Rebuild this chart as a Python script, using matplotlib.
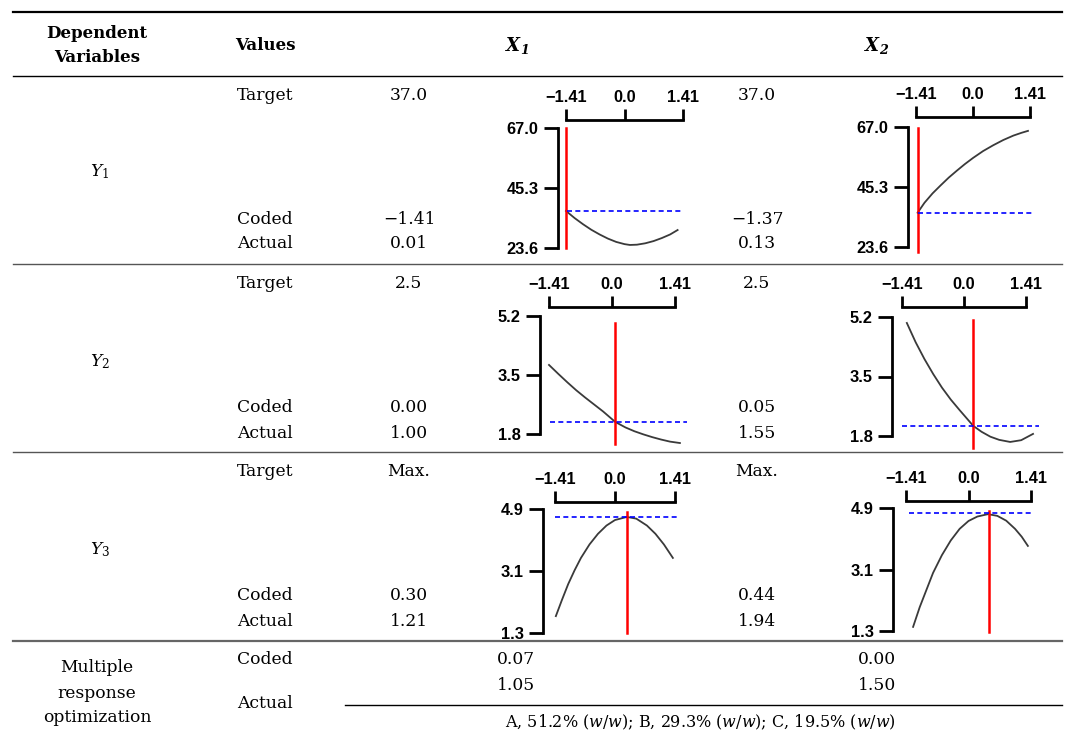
import matplotlib.pyplot as plt
import matplotlib as mpl

# ---- table text ----
responses = ["$Y_1$", "$Y_2$", "$Y_3$"]
targets_x1 = ["37.0", "2.5", "Max."]
coded_x1 = ["\u22121.41", "0.00", "0.30"]
actual_x1 = ["0.01", "1.00", "1.21"]
targets_x2 = ["37.0", "2.5", "Max."]
coded_x2 = ["\u22121.37", "0.05", "0.44"]
actual_x2 = ["0.13", "1.55", "1.94"]
multi_x1 = ["0.07", "1.05"]
multi_x2 = ["0.00", "1.50"]
composition = "A, 51.2% ($w/w$); B, 29.3% ($w/w$); C, 19.5% ($w/w$)"

# ---- mini plots: coded level vs response ----
coded_ticks = [-1.41, 0.0, 1.41]
coded_ticklabels = ["\u22121.41", "0.0", "1.41"]
y1_ticks = [23.6, 45.3, 67.0]
y2_ticks = [1.8, 3.5, 5.2]
y3_ticks = [1.3, 3.1, 4.9]

y1_x1_c = [-1.41, -1.2, -1.0, -0.8, -0.6, -0.4, -0.2, 0.0, 0.13, 0.3, 0.5, 0.7, 0.9, 1.1, 1.28]
y1_x1_v = [37.0, 34.4, 32.2, 30.2, 28.5, 27.0, 25.8, 25.0, 24.7, 24.8, 25.3, 26.1, 27.2, 28.5, 30.1]
y1_x2_c = [-1.37, -1.2, -1.0, -0.8, -0.6, -0.4, -0.2, 0.0, 0.25, 0.5, 0.75, 1.0, 1.2, 1.36]
y1_x2_v = [36.0, 39.6, 43.0, 45.9, 48.7, 51.2, 53.6, 55.8, 58.3, 60.4, 62.3, 63.9, 64.9, 65.6]
y2_x1_c = [-1.41, -1.2, -1.0, -0.8, -0.6, -0.4, -0.2, 0.07, 0.3, 0.5, 0.7, 0.9, 1.1, 1.3, 1.52]
y2_x1_v = [3.79, 3.53, 3.29, 3.06, 2.85, 2.65, 2.45, 2.15, 1.99, 1.88, 1.79, 1.71, 1.64, 1.58, 1.54]
y2_x2_c = [-1.30, -1.1, -0.9, -0.7, -0.5, -0.3, -0.1, 0.1, 0.21, 0.4, 0.6, 0.8, 1.05, 1.3, 1.57]
y2_x2_v = [5.03, 4.48, 4.00, 3.57, 3.18, 2.84, 2.54, 2.25, 2.09, 1.92, 1.78, 1.69, 1.63, 1.68, 1.86]
y3_x1_c = [-1.39, -1.25, -1.1, -0.95, -0.8, -0.6, -0.4, -0.2, 0.0, 0.28, 0.5, 0.75, 0.95, 1.15, 1.36]
y3_x1_v = [1.79, 2.25, 2.72, 3.12, 3.48, 3.87, 4.18, 4.42, 4.58, 4.67, 4.62, 4.42, 4.18, 3.87, 3.48]
y3_x2_c = [-1.25, -1.1, -0.95, -0.8, -0.6, -0.4, -0.2, 0.0, 0.2, 0.44, 0.65, 0.85, 1.05, 1.2, 1.34]
y3_x2_v = [1.42, 2.00, 2.50, 3.00, 3.52, 3.95, 4.29, 4.52, 4.65, 4.72, 4.67, 4.53, 4.29, 4.06, 3.79]

# optimum (red line) and target (blue dashed line)
opt_level = [-1.41, -1.37, 0.07, 0.20, 0.28, 0.47]
opt_span = [(23.6, 67.0), (21.9, 66.6), (1.5, 5.0), (1.46, 5.11), (1.3, 4.81), (1.27, 4.81)]
target_val = [37.0, 35.9, 2.15, 2.09, 4.67, 4.75]
target_span = [(-1.39, 1.36), (-1.36, 1.50), (-1.39, 1.68), (-1.41, 1.71), (-1.41, 1.47), (-1.34, 1.45)]

W, H = 1065, 733
SERIF = "DejaVu Serif"
mpl.rcParams.update({
    "mathtext.fontset": "custom",
    "mathtext.rm": SERIF,
    "mathtext.it": SERIF + ":italic",
    "mathtext.bf": SERIF + ":italic:bold",
})

fig = plt.figure(figsize=(W / 100, H / 100), dpi=100)
ax = fig.add_axes([0, 0, 1, 1])
ax.set_xlim(0, W)
ax.set_ylim(H, 0)
ax.axis("off")

fs = 12.3


def txt(x, y, s, size=fs, **kw):
    ax.text(x, y, s, ha="center", va="center", fontsize=size, family=SERIF, **kw)


# rules
ax.plot([13, 1062], [12, 12], color="black", lw=1.6)
ax.plot([13, 1062], [76, 76], color="black", lw=1.0)
for yy in [264, 452]:
    ax.plot([13, 1062], [yy, yy], color="#555555", lw=1.0)
ax.plot([13, 1062], [641, 641], color="#666666", lw=1.6)
ax.plot([345, 1062], [705, 705], color="black", lw=1.0)

# header
txt(97, 33, "Dependent", size=12, fontweight="bold")
txt(97, 57, "Variables", size=12, fontweight="bold")
txt(265, 45, "Values", size=12, fontweight="bold")
txt(517, 45, r"$\mathbf{X}_\mathbf{1}$", size=13)
txt(877, 45, r"$\mathbf{X}_\mathbf{2}$", size=13)

row_y = [(96, 172, 220, 244), (283, 362, 408, 433), (471, 550, 596, 622)]
for i, (yt, ym, yc, ya) in enumerate(row_y):
    txt(100, ym, responses[i])
    txt(265, yt, "Target")
    txt(265, yc, "Coded")
    txt(265, ya, "Actual")
    txt(409, yt, targets_x1[i])
    txt(409, yc, coded_x1[i])
    txt(409, ya, actual_x1[i])
    txt(757, yt, targets_x2[i])
    txt(757, yc, coded_x2[i])
    txt(757, ya, actual_x2[i])

txt(97, 668, "Multiple")
txt(97, 693, "response")
txt(97, 718, "optimization")
txt(265, 660, "Coded")
txt(265, 703, "Actual")
txt(516, 660, multi_x1[0])
txt(516, 685, multi_x1[1])
txt(877, 660, multi_x2[0])
txt(877, 685, multi_x2[1])
txt(700, 722, composition, size=11.5)

# mini plot geometry in pixels: x of -1.41, x of 1.41, y of top tick, y of bottom tick,
# y-axis x position, x-axis y position
geom = [
    (566, 683, 128, 248, 558, 120),
    (916, 1030, 127, 247, 908, 117),
    (549, 675, 316, 434, 540, 307),
    (902, 1026, 317, 436, 892, 307),
    (555, 675, 509, 633, 543, 502),
    (906, 1031, 508, 631, 893, 501),
]
curves = [(y1_x1_c, y1_x1_v), (y1_x2_c, y1_x2_v), (y2_x1_c, y2_x1_v),
          (y2_x2_c, y2_x2_v), (y3_x1_c, y3_x1_v), (y3_x2_c, y3_x2_v)]
yticks = [y1_ticks, y1_ticks, y2_ticks, y2_ticks, y3_ticks, y3_ticks]

px = 0.72  # points per pixel at 100 dpi
for k, (xl, xr, yt, yb, yax, xax) in enumerate(geom):
    a = fig.add_axes([xl / W, 1 - yb / H, (xr - xl) / W, (yb - yt) / H])
    a.set_xlim(-1.41, 1.41)
    a.set_ylim(yticks[k][0], yticks[k][-1])
    a.patch.set_visible(False)
    c, v = curves[k]
    a.plot(c, v, color="#3a3a3a", lw=1.3, clip_on=False)
    a.plot([opt_level[k]] * 2, opt_span[k], color="#ff0000", lw=1.8, clip_on=False)
    a.plot(target_span[k], [target_val[k]] * 2, color="#0000ff", lw=1.2,
           ls=(0, (3, 2)), clip_on=False)
    for s in ["right", "bottom"]:
        a.spines[s].set_visible(False)
    a.spines["left"].set_position(("outward", (xl - yax) * px))
    a.spines["top"].set_position(("outward", (yt - xax) * px))
    a.spines["left"].set_bounds(yticks[k][0], yticks[k][-1])
    a.spines["top"].set_bounds(-1.41, 1.41)
    for s in ["left", "top"]:
        a.spines[s].set_linewidth(2.0)
    a.xaxis.tick_top()
    a.set_xticks(coded_ticks)
    a.set_xticklabels(coded_ticklabels)
    a.set_yticks(yticks[k])
    a.set_yticklabels([f"{t:.1f}" for t in yticks[k]])
    a.tick_params(axis="x", direction="out", length=8, width=2.0, pad=3)
    a.tick_params(axis="y", direction="out", length=10, width=2.0, pad=4)
    for lab in a.get_xticklabels() + a.get_yticklabels():
        lab.set_fontfamily("Liberation Sans")
        lab.set_fontweight("bold")
        lab.set_fontsize(11.8)

fig.savefig("out.png", dpi=100)
